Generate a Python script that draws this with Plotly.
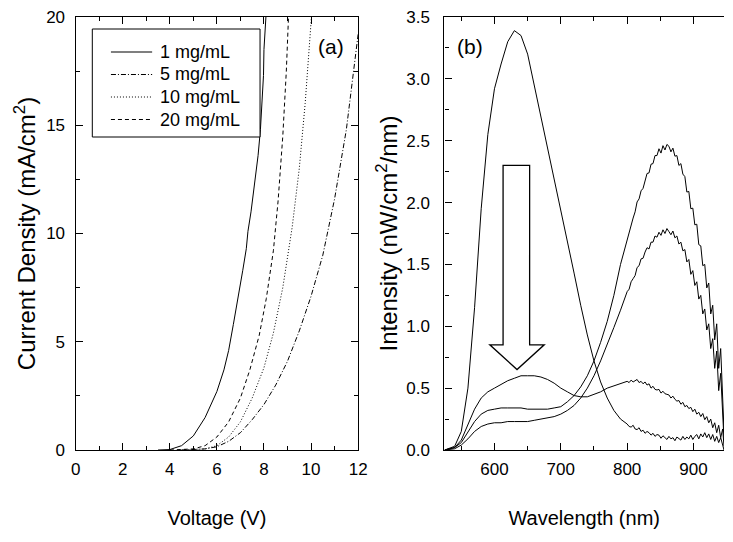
import plotly.graph_objects as go

# ---------------- (a) current density vs voltage ----------------
v_1 = [3.5, 4.0, 4.5, 5.0, 5.5, 6.0, 6.3, 6.5, 6.7, 6.9, 7.1, 7.25, 7.28, 7.32, 7.45, 7.6, 7.75,
       7.85, 7.92, 7.96, 7.98, 8.0, 8.05, 8.1]
j_1 = [0.0, 0.02, 0.2, 0.65, 1.5, 2.7, 3.7, 4.6, 5.8, 7.0, 8.3, 9.3, 9.9, 10.1, 11.0, 12.3, 13.6,
       14.8, 16.0, 16.8, 17.3, 18.5, 19.2, 20.3]

v_5 = [4.5, 5.5, 6.0, 6.5, 7.0, 7.5, 8.0, 8.5, 9.0, 9.5, 10.0, 10.5, 11.0, 11.5, 12.0]
j_5 = [0.0, 0.05, 0.15, 0.4, 0.8, 1.4, 2.1, 3.0, 4.1, 5.5, 7.1, 9.0, 11.6, 14.8, 19.2]

v_10 = [4.5, 5.5, 6.0, 6.5, 7.0, 7.5, 8.0, 8.4, 8.8, 9.2, 9.5, 9.75, 9.95, 10.05]
j_10 = [0.0, 0.05, 0.2, 0.6, 1.3, 2.4, 3.8, 5.4, 7.5, 10.3, 13.0, 16.0, 19.0, 20.5]

v_20 = [4.0, 5.0, 5.5, 6.0, 6.5, 7.0, 7.4, 7.8, 8.1, 8.4, 8.6, 8.8, 8.95, 9.05]
j_20 = [0.0, 0.05, 0.2, 0.6, 1.3, 2.4, 3.7, 5.3, 7.0, 9.2, 11.5, 14.5, 17.5, 20.2]

jv_names = ["1 mg/mL", "5 mg/mL", "10 mg/mL", "20 mg/mL"]

# ---------------- (b) emission spectra ----------------
# coarse sampling through the visible band, finer sampling through the noisy NIR band
wl = ([525, 540] + list(range(550, 800, 10)) + list(range(800, 945, 3)) + [946])

spec_1 = [0.0, 0.03, 0.15, 0.5, 1.15, 1.95, 2.55, 2.92, 3.12, 3.3, 3.39, 3.35, 3.2, 2.95, 2.7,
          2.45, 2.2, 1.95, 1.7, 1.43, 1.17, 0.93, 0.72, 0.55, 0.42, 0.32, 0.25,
          0.21, 0.19, 0.185, 0.20, 0.17, 0.165, 0.18, 0.15, 0.16, 0.135, 0.15, 0.14, 0.12,
          0.135, 0.11, 0.125, 0.12, 0.095, 0.115, 0.10, 0.085, 0.11, 0.09, 0.10, 0.075, 0.105,
          0.09, 0.08, 0.11, 0.085, 0.105, 0.09, 0.12, 0.085, 0.11, 0.125, 0.09, 0.13, 0.105,
          0.14, 0.10, 0.13, 0.085, 0.125, 0.07, 0.11, 0.06, 0.10, 0.04, 0.0]
spec_5 = [0.0, 0.02, 0.08, 0.2, 0.33, 0.42, 0.47, 0.5, 0.53, 0.56, 0.58, 0.6, 0.6, 0.6, 0.59,
          0.57, 0.54, 0.5, 0.47, 0.44, 0.43, 0.43, 0.45, 0.47, 0.5, 0.52, 0.54,
          0.555, 0.545, 0.565, 0.55, 0.56, 0.57, 0.545, 0.555, 0.535, 0.55, 0.525, 0.535,
          0.50, 0.515, 0.49, 0.485, 0.49, 0.46, 0.475, 0.455, 0.45, 0.445, 0.42, 0.435, 0.41,
          0.395, 0.40, 0.37, 0.385, 0.35, 0.36, 0.335, 0.345, 0.31, 0.33, 0.29, 0.305, 0.27,
          0.295, 0.245, 0.27, 0.22, 0.25, 0.18, 0.22, 0.14, 0.20, 0.10, 0.17, 0.03]
spec_10 = [0.0, 0.02, 0.06, 0.14, 0.23, 0.29, 0.32, 0.33, 0.34, 0.34, 0.34, 0.34, 0.33, 0.33,
           0.33, 0.33, 0.34, 0.35, 0.39, 0.44, 0.51, 0.6, 0.72, 0.87, 1.04, 1.25, 1.5,
           1.71, 1.75, 1.835, 1.875, 1.925, 2.005, 2.03, 2.095, 2.115, 2.175, 2.235, 2.24,
           2.31, 2.315, 2.38, 2.38, 2.435, 2.40, 2.46, 2.425, 2.47, 2.455, 2.41, 2.44, 2.375,
           2.38, 2.30, 2.315, 2.23, 2.21, 2.085, 2.09, 1.95, 1.955, 1.82, 1.825, 1.66, 1.65,
           1.49, 1.50, 1.31, 1.35, 1.10, 1.17, 0.89, 1.02, 0.66, 0.82, 0.40, 0.15]
spec_20 = [0.0, 0.01, 0.04, 0.09, 0.15, 0.19, 0.21, 0.22, 0.22, 0.23, 0.23, 0.23, 0.23, 0.24,
           0.25, 0.26, 0.27, 0.29, 0.32, 0.36, 0.42, 0.5, 0.6, 0.72, 0.85, 0.99, 1.13,
           1.28, 1.30, 1.36, 1.385, 1.41, 1.475, 1.49, 1.545, 1.55, 1.60, 1.635, 1.625, 1.68,
           1.68, 1.73, 1.72, 1.76, 1.735, 1.78, 1.75, 1.79, 1.765, 1.74, 1.77, 1.715, 1.73,
           1.665, 1.68, 1.61, 1.62, 1.52, 1.54, 1.42, 1.45, 1.33, 1.36, 1.22, 1.25, 1.10, 1.14,
           0.97, 1.02, 0.82, 0.90, 0.66, 0.80, 0.48, 0.62, 0.30, 0.08]

FONT = "Liberation Sans, Arial, sans-serif"
W, H = 733, 542
TOP, BOTTOM = 17, 450  # plot-area top/bottom in pixels


def px_x(x):
    return x / W


def px_y(y):
    return (BOTTOM - y) / (BOTTOM - TOP)


fig = go.Figure()

jv_dashes = ["solid", "5px,2px,1px,2px", "1px,2px", "4px,3px"]
jv_series = [(v_1, j_1), (v_5, j_5), (v_10, j_10), (v_20, j_20)]
for (vx, jy), dash, name in zip(jv_series, jv_dashes, jv_names):
    fig.add_trace(go.Scatter(x=vx, y=jy, mode="lines", name=name, showlegend=False,
                             line=dict(color="black", width=1, dash=dash),
                             xaxis="x", yaxis="y"))

for spec in (spec_1, spec_5, spec_10, spec_20):
    fig.add_trace(go.Scatter(x=wl, y=spec, mode="lines", showlegend=False,
                             line=dict(color="black", width=1),
                             xaxis="x2", yaxis="y2"))

axis_common = dict(showgrid=False, zeroline=False, showline=True, linecolor="black",
                   linewidth=1.3, ticks="inside", tickcolor="black", tickwidth=1.2,
                   ticklen=7, tickfont=dict(family=FONT, size=17, color="black"))

# boxed legend for the J-V panel
shapes = [dict(type="rect", xref="paper", yref="paper",
               x0=px_x(89), x1=px_x(260), y0=px_y(137), y1=px_y(29),
               line=dict(color="black", width=1), fillcolor="white", layer="above")]
annotations = []
row_y = [52, 74.5, 97, 119.5]
for name, dash, ry in zip(jv_names, jv_dashes, row_y):
    shapes.append(dict(type="line", xref="paper", yref="paper",
                       x0=px_x(108), x1=px_x(150), y0=px_y(ry), y1=px_y(ry),
                       line=dict(color="black", width=1.2, dash=dash), layer="above"))
    annotations.append(dict(text=name, xref="paper", yref="paper", x=px_x(156), y=px_y(ry),
                            xanchor="left", yanchor="middle", showarrow=False,
                            font=dict(family=FONT, size=18, color="black")))

annotations += [
    dict(text="(a)", x=px_x(332), y=px_y(46), xref="paper", yref="paper",
         xanchor="center", yanchor="middle",
         showarrow=False, font=dict(family=FONT, size=21, color="black")),
    dict(text="(b)", x=px_x(474), y=px_y(46), xref="paper", yref="paper",
         xanchor="center", yanchor="middle",
         showarrow=False, font=dict(family=FONT, size=21, color="black")),
]

# hollow block arrow pointing down (decreasing visible emission)
shapes.append(dict(type="path", xref="x2", yref="y2",
                   path="M 613,2.30 L 653,2.30 L 653,0.85 L 675,0.85 L 634,0.65 "
                        "L 593,0.85 L 613,0.85 Z",
                   line=dict(color="black", width=1.3), fillcolor="white"))

fig.update_layout(
    width=W, height=H,
    margin=dict(l=0, r=0, t=TOP, b=H - BOTTOM),
    paper_bgcolor="white", plot_bgcolor="white",
    font=dict(family=FONT, color="black"),
    showlegend=False,
    xaxis=dict(axis_common, domain=[px_x(72), px_x(360)], range=[0, 12], dtick=2, tick0=0,
               mirror="ticks", anchor="y", ticklabelstandoff=3,
               minor=dict(ticks="inside", dtick=1, ticklen=4, tickcolor="black"),
               title=dict(text="Voltage (V)", font=dict(family=FONT, size=20), standoff=33)),
    yaxis=dict(axis_common, domain=[0, 1], range=[0, 20], dtick=5, tick0=0,
               mirror="ticks", anchor="x", ticklabelstandoff=6,
               minor=dict(ticks="inside", dtick=2.5, ticklen=4, tickcolor="black"),
               title=dict(text="Current Density (mA/cm<sup>2</sup>)",
                          font=dict(family=FONT, size=24), standoff=3)),
    xaxis2=dict(axis_common, domain=[px_x(448), 1.0], range=[524.6, 946], dtick=100, tick0=0,
                mirror="ticks", anchor="y2", ticklabelstandoff=3,
                minor=dict(ticks="inside", dtick=50, ticklen=4, tickcolor="black"),
                title=dict(text="Wavelength (nm)", font=dict(family=FONT, size=20), standoff=33)),
    yaxis2=dict(axis_common, domain=[0, 1], range=[0, 3.5], dtick=0.5, tick0=0,
                tickformat=".1f", anchor="x2", ticklabelstandoff=10,
                minor=dict(ticks="inside", dtick=0.25, ticklen=4, tickcolor="black"),
                title=dict(text="Intensity (nW/cm<sup>2</sup>/nm)",
                           font=dict(family=FONT, size=24), standoff=1)),
    annotations=annotations,
    shapes=shapes,
)

fig.write_html("out.html")
